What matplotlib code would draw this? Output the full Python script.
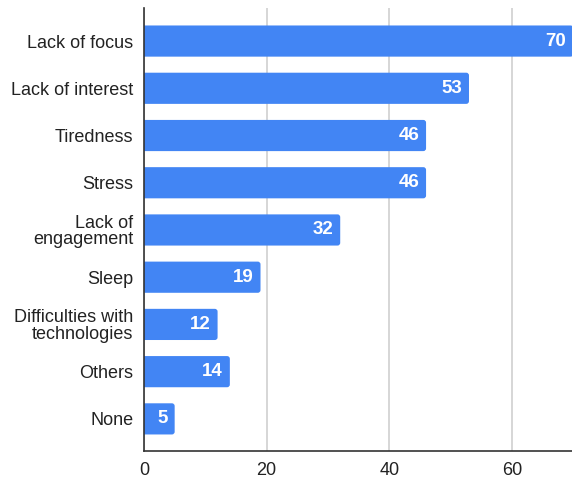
import matplotlib
matplotlib.use("Agg")
import matplotlib.pyplot as plt
from matplotlib.patches import FancyBboxPatch

categories = ["Lack of focus", "Lack of interest", "Tiredness", "Stress",
              "Lack of\nengagement", "Sleep", "Difficulties with\ntechnologies",
              "Others", "None"]
values = [70, 53, 46, 46, 32, 19, 12, 14, 5]
xticks = [0, 20, 40, 60]

plt.rcParams['font.family'] = ['Liberation Sans', 'DejaVu Sans']

fig = plt.figure(figsize=(5.72, 4.8), dpi=100)
ax = fig.add_axes([144/572, 29/480, 1 - 144/572, (451-8)/480])

color = "#4285F4"
ypos = list(range(len(categories)))
h = 0.66
xmax = 69.8
ymin, ymax = 8.68, -0.7
ax.set_xlim(0, xmax)
ax.set_ylim(ymin, ymax)

# aspect: data-y per data-x for equal pixel rounding
axw = 572 - 144
axh = 451 - 8
asp = (abs(ymax - ymin) / axh) / (xmax / axw)
r = 0.45
for y, v in zip(ypos, values):
    p = FancyBboxPatch((-1.0, y - h/2), v + 1.0, h,
                       boxstyle=f"round,pad=0,rounding_size={r}",
                       mutation_aspect=asp, facecolor=color, edgecolor='none',
                       zorder=3, clip_on=True)
    ax.add_patch(p)
    ax.text(v - 1.1, y, str(v), ha='right', va='center',
            color='white', fontsize=13.5, fontweight='bold', zorder=4)

ax.set_yticks(ypos)
ax.set_yticklabels(categories, fontsize=13, color='#222222', multialignment='right',
                   linespacing=0.95)
ax.set_xticks(xticks)
ax.set_xticklabels([str(t) for t in xticks], fontsize=13, color='#222222')
ax.tick_params(axis='y', length=0, pad=7.5)
ax.tick_params(axis='x', length=0, pad=8)
ax.grid(axis='x', color='#d0d0d0', linewidth=1.2, zorder=0)
for s in ['top', 'right']:
    ax.spines[s].set_visible(False)
for s in ['left', 'bottom']:
    ax.spines[s].set_color('#333333')
    ax.spines[s].set_linewidth(1.2)
    ax.spines[s].set_zorder(5)

fig.savefig("out.png", dpi=100)
